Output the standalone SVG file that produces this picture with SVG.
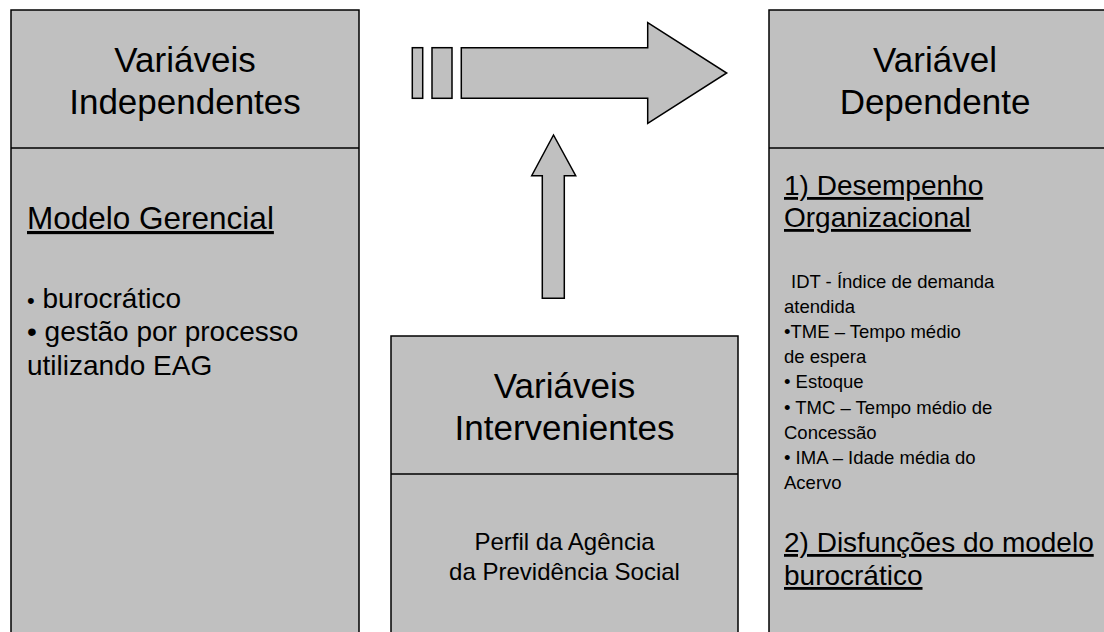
<svg xmlns="http://www.w3.org/2000/svg" width="1104" height="632" viewBox="0 0 1104 632">
<style>
.box{fill:#c0c0c0;stroke:#000;stroke-width:1.5}
.div{stroke:#000;stroke-width:1.5}
.arr{fill:#c0c0c0;stroke:#000;stroke-width:1.5;stroke-linejoin:miter}
text{font-family:"Liberation Sans",Arial,sans-serif;fill:#000}
.title{font-size:35px;text-anchor:middle}
.head{font-size:28px;text-decoration:underline}
.big{font-size:31.5px;text-decoration:underline}
.item{font-size:28px}
.small{font-size:18.5px}
.mid{font-size:24px;text-anchor:middle}
.dot{font-size:22px}
</style>
<rect width="1104" height="632" fill="#fff"/>
<g id="independentes">
<rect class="box" x="11" y="10" width="348" height="640"/>
<line class="div" x1="11" y1="148" x2="359" y2="148"/>
<text class="title" x="185" y="72">Variáveis</text>
<text class="title" x="185" y="114">Independentes</text>
<text class="big" x="27" y="229">Modelo Gerencial</text>
<text class="item" x="27" y="308"><tspan class="dot">•</tspan> burocrático</text>
<text class="item" x="27" y="341">• gestão por processo</text>
<text class="item" x="27" y="375">utilizando EAG</text>
</g>
<g id="intervenientes">
<rect class="box" x="391" y="336" width="347" height="320"/>
<line class="div" x1="391" y1="474" x2="738" y2="474"/>
<text class="title" x="564.5" y="398">Variáveis</text>
<text class="title" x="564.5" y="440">Intervenientes</text>
<text class="mid" x="564.5" y="550">Perfil da Agência</text>
<text class="mid" x="564.5" y="580">da Previdência Social</text>
</g>
<g id="dependente">
<rect class="box" x="769" y="10" width="345" height="640"/>
<line class="div" x1="769" y1="148" x2="1114" y2="148"/>
<text class="title" x="935" y="72">Variável</text>
<text class="title" x="935" y="114">Dependente</text>
<text class="head" x="784" y="195">1) Desempenho</text>
<text class="head" x="784" y="227">Organizacional</text>
<text class="small" x="791" y="288">IDT - Índice de demanda</text>
<text class="small" x="784" y="313">atendida</text>
<text class="small" x="784" y="338">•TME – Tempo médio</text>
<text class="small" x="784" y="363">de espera</text>
<text class="small" x="784" y="388">• Estoque</text>
<text class="small" x="784" y="414">• TMC – Tempo médio de</text>
<text class="small" x="784" y="439">Concessão</text>
<text class="small" x="784" y="464">• IMA – Idade média do</text>
<text class="small" x="784" y="489">Acervo</text>
<text class="head" x="784" y="552">2) Disfunções do modelo</text>
<text class="head" x="784" y="585">burocrático</text>
</g>
<g id="connectors">
<rect class="arr" x="412.3" y="47.7" width="10.4" height="50.6"/>
<rect class="arr" x="432" y="47.7" width="20" height="50.6"/>
<polygon class="arr" points="461.3,47.7 647.7,47.7 647.7,22.7 726.7,73 647.7,123.3 647.7,98.3 461.3,98.3"/>
<polygon class="arr" points="542.3,298.3 542.3,175.7 531.7,175.7 553.5,135 575.7,175.7 564.3,175.7 564.3,298.3"/>
</g>
</svg>
